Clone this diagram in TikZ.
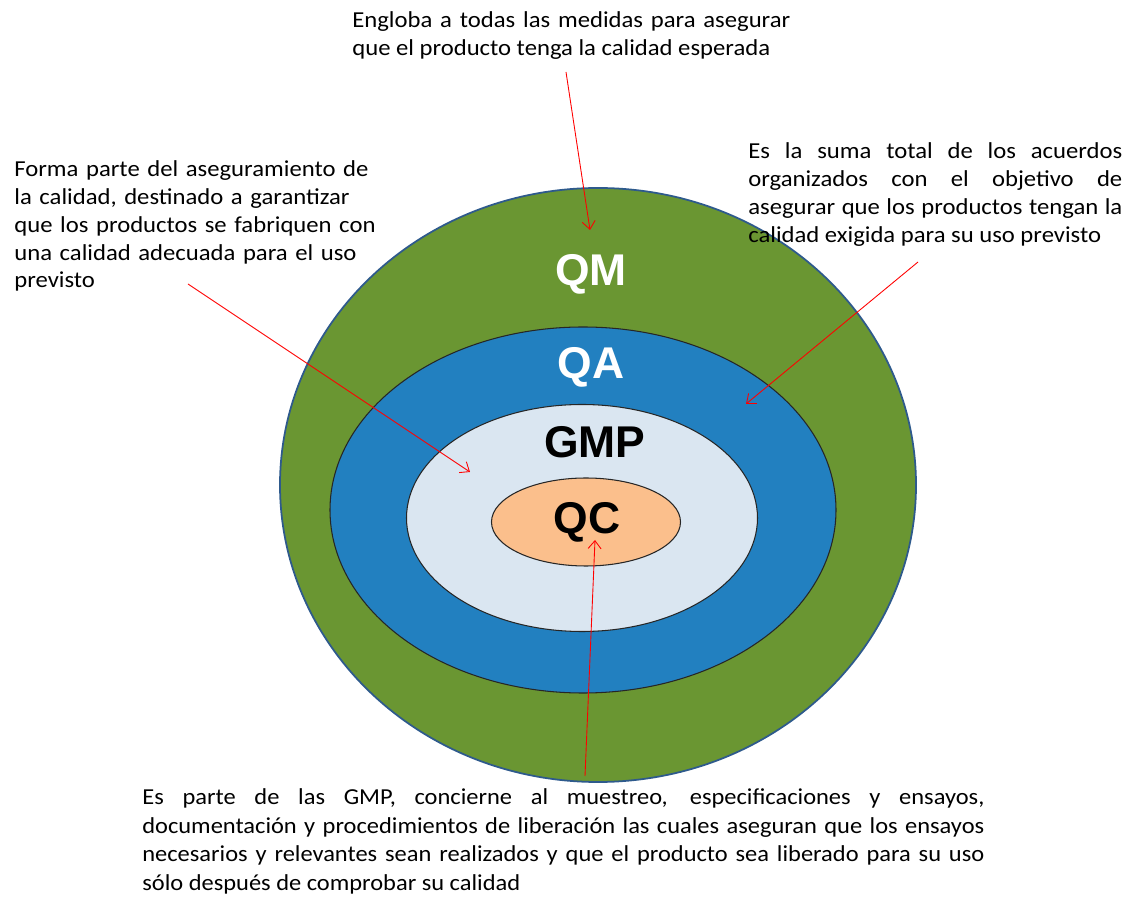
\documentclass[tikz,border=0pt]{standalone}
\usepackage{fontspec}
\setmainfont{Carlito}
\newfontfamily\notefont[FakeStretch=1.08]{Carlito}
\newfontfamily\widefont[FakeStretch=1.07]{Carlito}
\newfontfamily\labelfont{Liberation Sans}
\usetikzlibrary{shapes.geometric,arrows.meta}
\definecolor{qmgreen}{HTML}{6A9632}
\definecolor{qablue}{HTML}{2280C0}
\definecolor{gmplight}{HTML}{DAE6F1}
\definecolor{qcorange}{HTML}{FBBF8C}
\definecolor{rimblue}{HTML}{2E5A8C}
\hyphenpenalty=10000
\begin{document}
\begin{tikzpicture}[x=0.2mm,y=-0.2mm,
			ring/.style={ellipse, draw=black!85, line width=0.6pt, inner sep=0pt},
			ringlabel/.style={inner sep=0pt, font=\labelfont\fontsize{25.3}{27}\selectfont\bfseries},
			note/.style={anchor=north west, inner sep=0pt, font=\notefont\fontsize{13}{15.9}\selectfont},
			pointer/.style={red, line width=0.5pt, -{Straight Barb[length=1.6mm,width=2.6mm]}},
			]
\useasboundingbox (0,0) rectangle (1131,898);

\node[ring, draw=rimblue, line width=1pt, fill=qmgreen, minimum width=127.2mm, minimum height=118.8mm] (qm) at (598,485) {};
\node[ring, fill=qablue, minimum width=101.2mm, minimum height=73.2mm] (qa) at (583,510) {};
\node[ring, fill=gmplight, minimum width=70.2mm, minimum height=45.4mm] (gmp) at (582,518) {};
\node[ring, fill=qcorange, minimum width=37.8mm, minimum height=17.6mm] (qc) at (586,522) {};

\node[ringlabel, white] (qmtext) at (591,274) {QM};
\node[ringlabel, white] (qatext) at (591,367) {QA};
\node[ringlabel] (gmptext) at (595,442) {GMP};
\node[ringlabel] (qctext) at (587,522) {QC};

\node[note, text width=87.6mm, align=justify] (topnote) at (352,11) {Engloba a todas las medidas para asegurar\linebreak que el producto tenga la calidad esperada};
\node[note, text width=74mm, align=left] (leftnote) at (14,160) {Forma parte del aseguramiento de\\ la calidad, destinado a garantizar\\ que los productos se fabriquen con\\ una calidad adecuada para el uso\\ previsto};
\node[note, text width=74.8mm, align=justify] (rightnote) at (748,142) {Es la suma total de los acuerdos\linebreak organizados con el objetivo de\linebreak asegurar que los productos tengan la\linebreak calidad exigida para su uso previsto};
\node[note, text width=168.4mm, align=justify, font=\widefont\fontsize{13}{16.4}\selectfont] (bottomnote) at (142,788) {Es parte de las GMP, concierne al muestreo, especificaciones y ensayos,\linebreak documentación y procedimientos de liberación las cuales aseguran que los ensayos\linebreak necesarios y relevantes sean realizados y que el producto sea liberado para su uso\linebreak sólo después de comprobar su calidad};

\coordinate (toptail) at (566,72);
\coordinate (tophead) at (590,230);
\coordinate (lefttail) at (188,284);
\coordinate (lefthead) at (470,472);
\coordinate (righttail) at (918,262);
\coordinate (righthead) at (746,404);
\coordinate (bottomtail) at (585,776);
\coordinate (bottomhead) at (595,540);

\draw[pointer] (toptail) -- (tophead);
\draw[pointer] (lefttail) -- (lefthead);
\draw[pointer] (righttail) -- (righthead);
\draw[pointer] (bottomtail) -- (bottomhead);

\end{tikzpicture}
\end{document}
